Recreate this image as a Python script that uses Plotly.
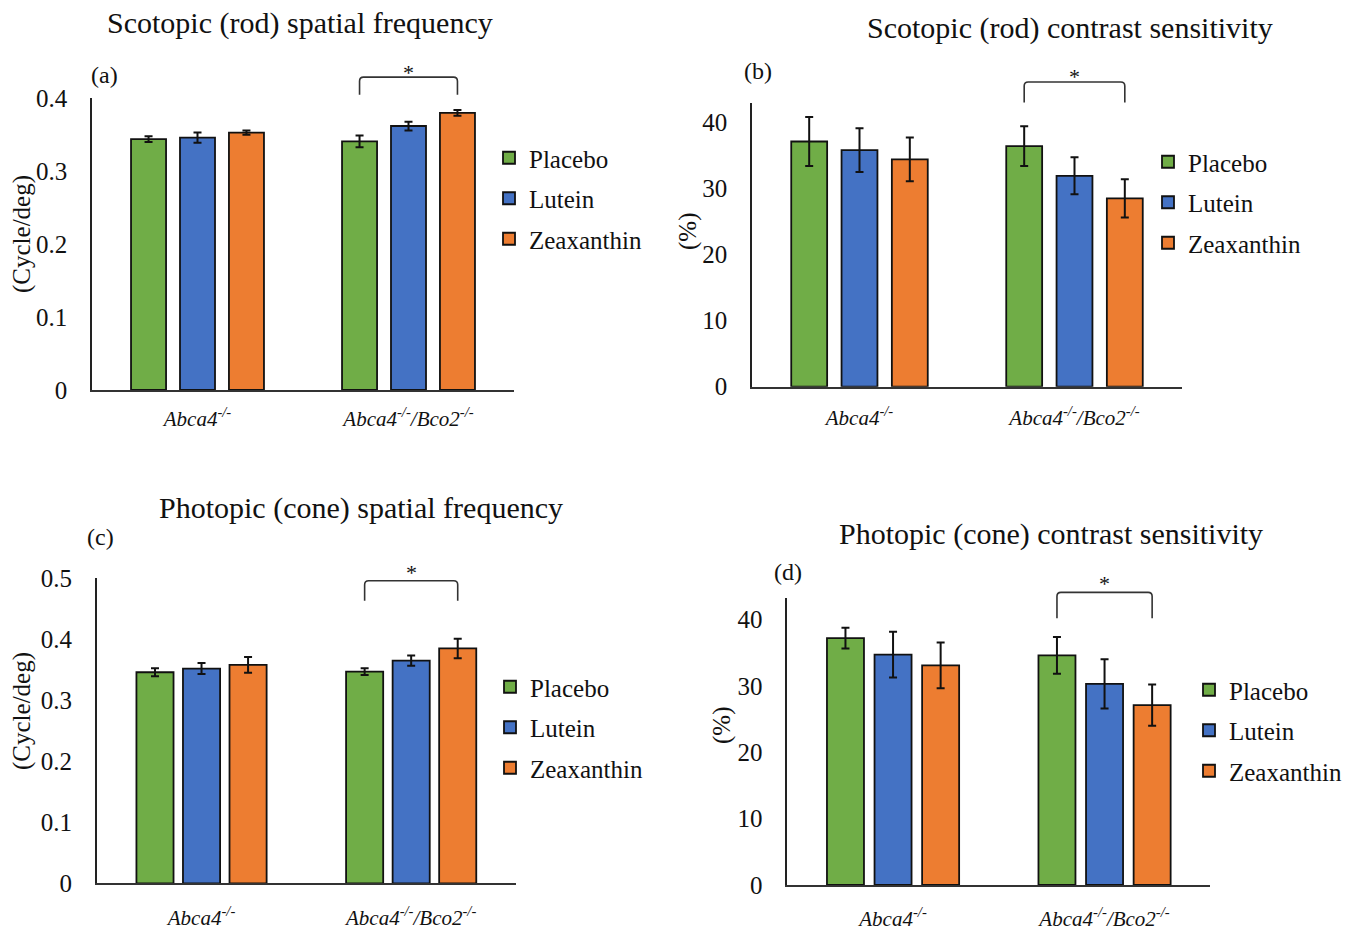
import plotly.graph_objects as go

W, H = 1360, 933
FONT = "Liberation Serif, Times New Roman, serif"
INK = "#111111"

# ---------------- data ----------------
groups = ["Abca4-/-", "Abca4-/-/Bco2-/-"]
group_labels = ["<i>Abca4<sup>-/-</sup></i>", "<i>Abca4<sup>-/-</sup>/Bco2<sup>-/-</sup></i>"]
treatments = ["Placebo", "Lutein", "Zeaxanthin"]
colors = ["#70AD47", "#4472C4", "#ED7D31"]

# (a) Scotopic (rod) spatial frequency, cycle/deg
a_placebo = [0.344, 0.341]
a_lutein = [0.346, 0.362]
a_zeaxanthin = [0.353, 0.380]
a_placebo_err = [0.004, 0.008]
a_lutein_err = [0.007, 0.006]
a_zeaxanthin_err = [0.003, 0.004]
a_ticks = [0, 0.1, 0.2, 0.3, 0.4]

# (b) Scotopic (rod) contrast sensitivity, %
b_placebo = [37.1, 36.4]
b_lutein = [35.8, 31.9]
b_zeaxanthin = [34.4, 28.5]
b_placebo_err = [3.7, 3.0]
b_lutein_err = [3.3, 2.8]
b_zeaxanthin_err = [3.3, 2.9]
b_ticks = [0, 10, 20, 30, 40]

# (c) Photopic (cone) spatial frequency, cycle/deg
c_placebo = [0.346, 0.347]
c_lutein = [0.352, 0.365]
c_zeaxanthin = [0.358, 0.385]
c_placebo_err = [0.0066, 0.0055]
c_lutein_err = [0.009, 0.0085]
c_zeaxanthin_err = [0.0128, 0.016]
c_ticks = [0, 0.1, 0.2, 0.3, 0.4, 0.5]

# (d) Photopic (cone) contrast sensitivity, %
d_placebo = [37.2, 34.6]
d_lutein = [34.7, 30.3]
d_zeaxanthin = [33.1, 27.1]
d_placebo_err = [1.55, 2.75]
d_lutein_err = [3.45, 3.7]
d_zeaxanthin_err = [3.45, 3.1]
d_ticks = [0, 10, 20, 30, 40]

# ---------------- layout specs (pixels) ----------------
panels = [
    dict(key="a", title="Scotopic (rod) spatial frequency", ytitle="(Cycle/deg)",
         vals=[a_placebo, a_lutein, a_zeaxanthin], errs=[a_placebo_err, a_lutein_err, a_zeaxanthin_err],
         ticks=a_ticks, ymax=0.4, xpx=(92, 514), ypx=(98.3, 390),
         step=0.232, width=0.166, brk=(0.429, 0.405, 0.442),
         title_xy=(300, 23), letter_xy=(104, 75), ytitle_xy=(22, 234),
         legend_xy=(489, 157), xstand=9),
    dict(key="b", title="Scotopic (rod) contrast sensitivity", ytitle="(%)",
         vals=[b_placebo, b_lutein, b_zeaxanthin], errs=[b_placebo_err, b_lutein_err, b_zeaxanthin_err],
         ticks=b_ticks, ymax=42.88, xpx=(752, 1182), ypx=(103.3, 386.7),
         step=0.234, width=0.167, brk=(46.1, 43.0, 47.7),
         title_xy=(1070, 28), letter_xy=(758, 71), ytitle_xy=(688, 232),
         legend_xy=(1148, 161), xstand=11),
    dict(key="c", title="Photopic (cone) spatial frequency", ytitle="(Cycle/deg)",
         vals=[c_placebo, c_lutein, c_zeaxanthin], errs=[c_placebo_err, c_lutein_err, c_zeaxanthin_err],
         ticks=c_ticks, ymax=0.5, xpx=(96.7, 516), ypx=(578.3, 883.3),
         step=0.222, width=0.177, brk=(0.496, 0.463, 0.517),
         title_xy=(361, 508), letter_xy=(100, 537), ytitle_xy=(22, 711),
         legend_xy=(490, 686), xstand=14),
    dict(key="d", title="Photopic (cone) contrast sensitivity", ytitle="(%)",
         vals=[d_placebo, d_lutein, d_zeaxanthin], errs=[d_placebo_err, d_lutein_err, d_zeaxanthin_err],
         ticks=d_ticks, ymax=43.2, xpx=(787.3, 1210.3), ypx=(598.3, 885),
         step=0.225, width=0.175, brk=(44.1, 40.2, 46.2),
         title_xy=(1051, 534), letter_xy=(788, 572), ytitle_xy=(722, 726),
         legend_xy=(1189, 689), xstand=14),
]

fig = go.Figure()
layout = dict(
    width=W, height=H, autosize=False,
    margin=dict(l=0, r=0, t=0, b=0, pad=0, autoexpand=False),
    paper_bgcolor="white", plot_bgcolor="white",
    barmode="overlay", font=dict(family=FONT, color=INK),
    showlegend=True,
)
annotations = []
shapes = []

for k, p in enumerate(panels):
    n = "" if k == 0 else str(k + 1)
    xa, ya, leg = "x" + n, "y" + n, "legend" + n
    for i, t in enumerate(treatments):
        fig.add_trace(go.Bar(
            x=groups, y=p["vals"][i], name=t,
            xaxis=xa, yaxis=ya, legend=leg, legendgroup=p["key"] + t,
            offset=(i - 1) * p["step"] - p["width"] / 2, width=p["width"],
            marker=dict(color=colors[i], line=dict(color=INK, width=1.8)),
            error_y=dict(type="data", array=p["errs"][i], color=INK, thickness=2, width=4),
            hoverinfo="name+y",
        ))
    x0, x1 = p["xpx"]
    ytop, ybot = p["ypx"]
    layout["xaxis" + n] = dict(
        domain=[x0 / W, x1 / W], anchor=ya, type="category", range=[-0.5, 1.5],
        tickvals=groups, ticktext=group_labels, ticks="",
        tickfont=dict(family=FONT, size=21, color=INK), ticklabelstandoff=p["xstand"],
        showline=True, linecolor="#333333", linewidth=2, showgrid=False, zeroline=False,
        fixedrange=True, automargin=False,
    )
    layout["yaxis" + n] = dict(
        domain=[1 - ybot / H, 1 - ytop / H], anchor=xa, range=[0, p["ymax"]],
        tickvals=p["ticks"], ticks="",
        tickfont=dict(family=FONT, size=25, color=INK), ticklabelstandoff=18,
        showline=True, linecolor="#222222", linewidth=1.6, showgrid=False, zeroline=False,
        fixedrange=True, automargin=False,
    )
    lx, ly = p["legend_xy"]
    layout[leg] = dict(
        x=lx / W, y=1 - (ly - 22) / H, xanchor="left", yanchor="top",
        font=dict(family=FONT, size=25, color=INK), bgcolor="rgba(0,0,0,0)",
        traceorder="grouped", tracegroupgap=5, itemwidth=30, itemclick=False,
        itemdoubleclick=False,
    )
    # title, panel letter, y title
    tx, ty = p["title_xy"]
    annotations.append(dict(text=p["title"], x=tx / W, y=1 - ty / H, xref="paper", yref="paper",
                            xanchor="center", yanchor="middle", showarrow=False,
                            font=dict(family=FONT, size=30, color=INK)))
    lx2, ly2 = p["letter_xy"]
    annotations.append(dict(text="(" + p["key"] + ")", x=lx2 / W, y=1 - ly2 / H, xref="paper", yref="paper",
                            xanchor="center", yanchor="middle", showarrow=False,
                            font=dict(family=FONT, size=24, color=INK)))
    yx, yy = p["ytitle_xy"]
    annotations.append(dict(text=p["ytitle"], x=yx / W, y=1 - yy / H, xref="paper", yref="paper",
                            xanchor="center", yanchor="middle", showarrow=False, textangle=-90,
                            font=dict(family=FONT, size=25, color=INK)))
    # significance bracket between Placebo and Zeaxanthin of the second group
    top, leg_end, star = p["brk"]
    gx = lambda pos: (pos + 0.5) / 2.0
    bx0, bx1 = gx(1 - p["step"]), gx(1 + p["step"])
    by_top, by_leg = top / p["ymax"], leg_end / p["ymax"]
    rx = 4 / (x1 - x0)
    ry = 4 / (ybot - ytop)
    path = (f"M {bx0},{by_leg} L {bx0},{by_top - ry} Q {bx0},{by_top} {bx0 + rx},{by_top} "
            f"L {bx1 - rx},{by_top} Q {bx1},{by_top} {bx1},{by_top - ry} L {bx1},{by_leg}")
    shapes.append(dict(type="path", path=path, xref=xa + " domain", yref=ya + " domain",
                       line=dict(color="#333333", width=1.6)))
    annotations.append(dict(text="*", x=gx(1), y=star / p["ymax"], xref=xa + " domain", yref=ya + " domain",
                            xanchor="center", yanchor="middle", showarrow=False, yshift=-5,
                            font=dict(family=FONT, size=22, color=INK)))

layout["annotations"] = annotations
layout["shapes"] = shapes
fig.update_layout(**layout)
fig.write_html("out.html", config={"displayModeBar": False})
